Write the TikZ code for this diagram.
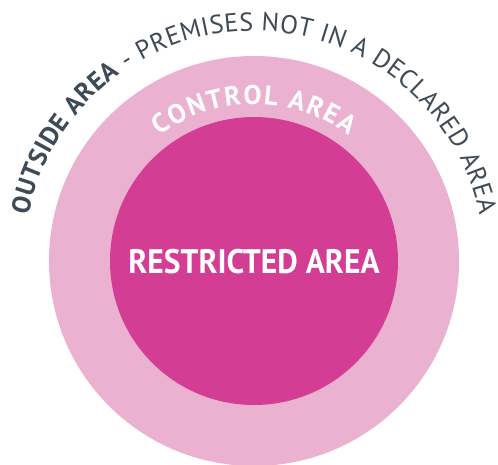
\documentclass[tikz,border=0pt]{standalone}
\usepackage{fontspec}
\setmainfont{PT Sans}
\usetikzlibrary{decorations.text,calc}
\definecolor{outerpink}{HTML}{EBB1D0}
\definecolor{innerpink}{HTML}{D33E94}
\definecolor{greytext}{HTML}{3E4A55}
\tikzset{
  ring/.style={fill=outerpink},
  core/.style={fill=innerpink},
  bigtitle/.style={text=white, inner sep=0pt, font=\bfseries\fontsize{34}{34}\selectfont},
}
\begin{document}
\begin{tikzpicture}[x=1pt,y=1pt]
\useasboundingbox (0,0) rectangle (498,-464);
\coordinate (c) at (254,-261);
\fill[ring] (c) circle[radius=205];
\fill[core] (c) circle[radius=144];
\node[bigtitle, anchor=base, xscale=0.93] (restricted) at (254,-273) {RESTRICTED AREA};
\path[decorate, decoration={text along path,
  text={|\bfseries\fontsize{27}{27}\selectfont|CONTROL AREA},
  text color=white, text align={fit to path}}]
  ($(c)+(127:157)$) arc[start angle=127, end angle=53, radius=157];
\path[decorate, decoration={text along path,
  text={|\bfseries\fontsize{26}{26}\selectfont|OUTSIDE AREA|\fontsize{26}{26}\selectfont| - PREMISES NOT IN A DECLARED AREA},
  text color=greytext, text align={fit to path}}]
  ($(c)+(168.5:230)$) arc[start angle=168.5, end angle=11.5, radius=230];
\end{tikzpicture}
\end{document}
